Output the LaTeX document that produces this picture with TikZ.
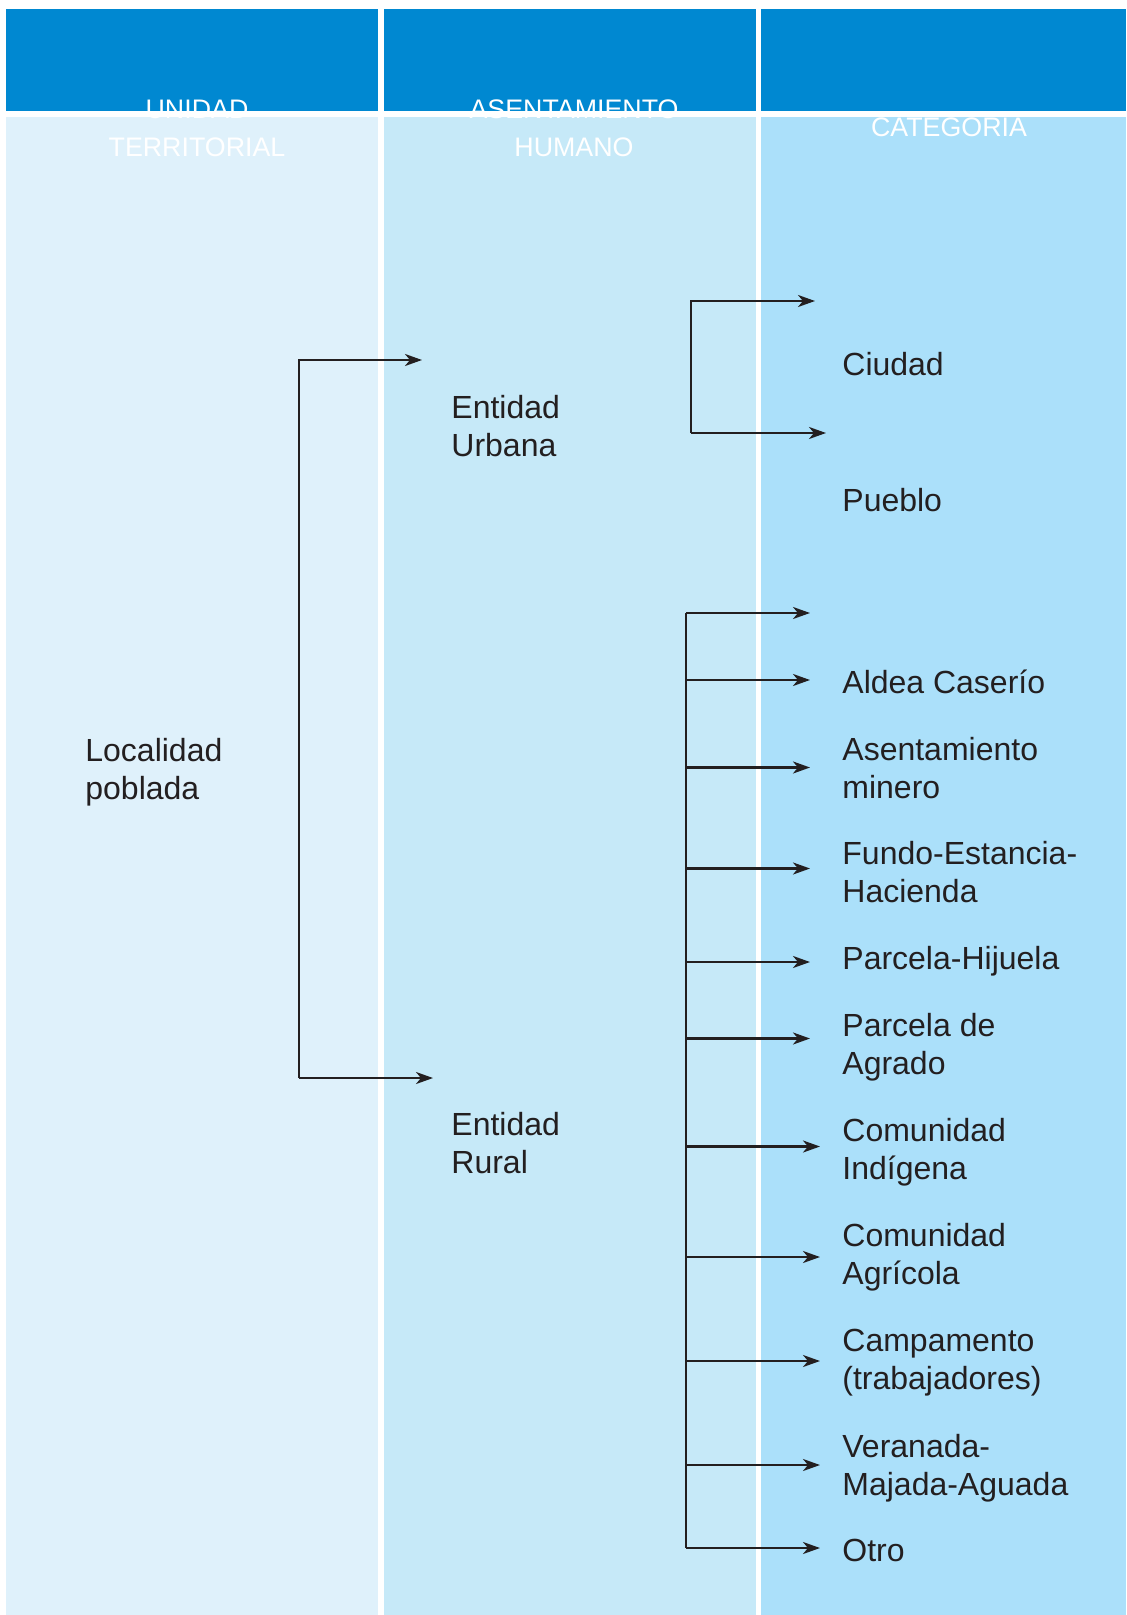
\documentclass[tikz,border=0pt]{standalone}
\usepackage{fontspec}
\setmainfont{Liberation Sans}
\usetikzlibrary{arrows.meta}
\definecolor{cabecera}{RGB}{0,136,209}
\definecolor{colA}{RGB}{223,241,251}
\definecolor{colB}{RGB}{198,233,248}
\definecolor{colC}{RGB}{171,224,250}
\definecolor{texto}{RGB}{35,31,32}

\begin{document}
\begin{tikzpicture}
[x=0.5pt,y=-0.5pt,
 titulo/.style={text=white,font=\fontsize{13.4}{19}\selectfont,align=center,inner sep=0},
 etiqueta/.style={text=texto,font=\fontsize{16}{19}\selectfont,align=left,anchor=west,inner sep=0},
 flecha/.style={draw=texto,line width=1.2pt,-{Stealth[length=8.5pt,width=6pt,inset=2.5pt]}}]
\useasboundingbox (0,0) rectangle (1126,1615);
% columnas
\fill[colA] (6,117) rectangle (378,1615);
\fill[colB] (384,117) rectangle (756,1615);
\fill[colC] (761,117) rectangle (1126,1615);
\fill[cabecera] (6,9) rectangle (378,111);
\fill[cabecera] (384,9) rectangle (756,111);
\fill[cabecera] (761,9) rectangle (1126,111);
\node[titulo] (t1) at (197,128) {UNIDAD\\TERRITORIAL};
\node[titulo] (t2) at (574,128) {ASENTAMIENTO\\HUMANO};
\node[titulo] (t3) at (949,125) {CATEGORÍA};
% textos
\node[etiqueta] (localidad) at (85,772) {Localidad\\poblada};
\node[etiqueta] (urbana) at (451,426) {Entidad\\Urbana};
\node[etiqueta] (rural) at (451,1143) {Entidad\\Rural};
\node[etiqueta] (ciudad) at (842,364) {Ciudad};
\node[etiqueta] (pueblo) at (842,500) {Pueblo};
\node[etiqueta] (aldea) at (842,682) {Aldea Caserío};
\node[etiqueta] (minero) at (842,768) {Asentamiento\\minero};
\node[etiqueta] (fundo) at (842,872) {Fundo-Estancia-\\Hacienda};
\node[etiqueta] (hijuela) at (842,961) {Parcela-Hijuela};
\node[etiqueta] (agrado) at (842,1047) {Parcela de\\Agrado};
\node[etiqueta] (indigena) at (842,1152) {Comunidad\\Indígena};
\node[etiqueta] (agricola) at (842,1257) {Comunidad\\Agrícola};
\node[etiqueta] (campamento) at (842,1363) {Campamento\\(trabajadores)};
\node[etiqueta] (veranada) at (842,1468) {Veranada-\\Majada-Aguada};
\node[etiqueta] (otro) at (842,1550) {Otro};
% llaves
\coordinate (b1) at (299,1078);
\coordinate (fu) at (422,360);
\coordinate (fr) at (433,1078);
\draw[flecha] (b1) |- (fu);
\draw[flecha] (b1) -- (fr);
\coordinate (b2) at (691,433);
\coordinate (fc) at (815,301);
\coordinate (fp) at (826,433);
\draw[flecha] (b2) |- (fc);
\draw[flecha] (b2) -- (fp);
\coordinate (b3) at (686,613);
\coordinate (b4) at (686,1548);
\draw[texto,line width=1.3pt] (b3) -- (b4);
\foreach \y/\x [count=\i] in {613/810,680/810,767.5/810,868.5/810,962/810,1038.5/810,1146.5/820,1257/820,1361/820,1465/820,1548/820}
{
\coordinate (r\i) at (686,\y);
\coordinate (s\i) at (\x,\y);
\draw[flecha] (r\i) -- (s\i);
}
\end{tikzpicture}
\end{document}
